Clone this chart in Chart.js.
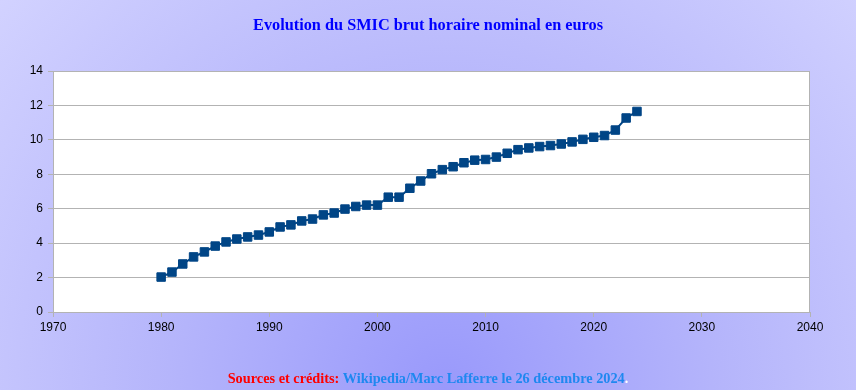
<!DOCTYPE html>
<html>
<head>
<meta charset="utf-8">
<script src="https://cdn.jsdelivr.net/npm/chart.js@4/dist/chart.umd.min.js"></script>
<style>
  html, body { margin: 0; padding: 0; }
  body {
    width: 856px; height: 390px; overflow: hidden; position: relative;
    background: radial-gradient(circle farthest-corner at 52% 100%, #9999fb 0%, #b4b4fb 45%, #d2d2ff 100%);
  }
  #wrap { position: absolute; left: 0; top: 0; width: 856px; height: 390px; }
  #title {
    position: absolute; left: 0; width: 856px; top: 15px; text-align: center;
    font-family: "Liberation Serif", serif; font-weight: bold; font-size: 16.3px; color: #0000ff;
  }
  #footer {
    position: absolute; left: 0; width: 856px; top: 370px; text-align: center;
    font-family: "Liberation Serif", serif; font-weight: bold; font-size: 14.3px;
  }
  #footer .red { color: #ff0000; }
  #footer .blue { color: #1e88f0; }
  #footer .white { color: #ffffff; }
</style>
</head>
<body>
<div id="wrap"><canvas id="c" width="856" height="390"></canvas></div>
<div id="title">Evolution du SMIC brut horaire nominal en euros</div>
<div id="footer"><span class="red">Sources et crédits:</span> <span class="blue">Wikipedia/Marc Lafferre le 26 décembre 2024</span><span class="white">.</span></div>
<script>
const years = [1980,1981,1982,1983,1984,1985,1986,1987,1988,1989,
               1990,1991,1992,1993,1994,1995,1996,1997,1998,1999,
               2000,2001,2002,2003,2004,2005,2006,2007,2008,2009,
               2010,2011,2012,2013,2014,2015,2016,2017,2018,2019,
               2020,2021,2022,2023,2024];
const smic = [2.03,2.32,2.79,3.20,3.49,3.83,4.07,4.24,4.36,4.47,
              4.65,4.94,5.06,5.29,5.40,5.64,5.75,5.98,6.13,6.21,
              6.21,6.67,6.67,7.19,7.61,8.03,8.27,8.44,8.67,8.82,
              8.86,9.00,9.22,9.43,9.53,9.61,9.67,9.76,9.88,10.03,
              10.15,10.25,10.57,11.27,11.65];
const xTicks = [1970,1980,1990,2000,2010,2020,2030,2040];
const yTicks = [0,2,4,6,8,10,12,14];

const points = years.map((y, i) => ({ x: y, y: smic[i] }));

const plotBg = {
  id: 'plotBg',
  beforeDraw(chart) {
    const a = chart.chartArea, ctx = chart.ctx;
    ctx.save();
    ctx.fillStyle = '#ffffff';
    ctx.fillRect(a.left, a.top, a.right - a.left, a.bottom - a.top);
    ctx.restore();
  },
  beforeDatasetsDraw(chart) {
    const a = chart.chartArea, ctx = chart.ctx;
    ctx.save();
    ctx.strokeStyle = '#b3b3b3';
    ctx.lineWidth = 1;
    ctx.strokeRect(a.left + 0.5, a.top + 0.5, a.right - a.left - 1, a.bottom - a.top);
    ctx.restore();
  }
};

Chart.defaults.font.family = '"Liberation Sans", Arial, sans-serif';
Chart.defaults.font.size = 12;
Chart.defaults.color = '#000000';

new Chart(document.getElementById('c'), {
  type: 'line',
  data: {
    datasets: [{
      data: points,
      borderColor: '#004586',
      backgroundColor: '#004586',
      borderWidth: 2,
      pointStyle: 'rect',
      pointRadius: 6,
      pointBorderWidth: 1,
      pointBorderColor: '#004586',
      pointBackgroundColor: '#004586',
      tension: 0,
      fill: false
    }]
  },
  options: {
    responsive: false,
    animation: false,
    layout: { padding: { left: 0, right: 46, top: 71, bottom: 0 } },
    plugins: { legend: { display: false }, title: { display: false }, tooltip: { enabled: false } },
    scales: {
      x: {
        type: 'linear', min: 1970, max: 2040,
        afterBuildTicks(s) { s.ticks = xTicks.map(v => ({ value: v })); },
        afterFit(s) { s.height = 78; },
        grid: { drawOnChartArea: false, color: '#b3b3b3', tickLength: 5 },
        border: { color: '#b3b3b3' },
        ticks: { padding: 3, maxRotation: 0, callback: v => String(v) }
      },
      y: {
        type: 'linear', min: 0, max: 14,
        afterBuildTicks(s) { s.ticks = yTicks.map(v => ({ value: v })); },
        afterFit(s) { s.width = 53; },
        grid: { color: '#b3b3b3', tickLength: 5 },
        border: { color: '#b3b3b3' },
        ticks: { padding: 5 }
      }
    }
  },
  plugins: [plotBg]
});
</script>
</body>
</html>
